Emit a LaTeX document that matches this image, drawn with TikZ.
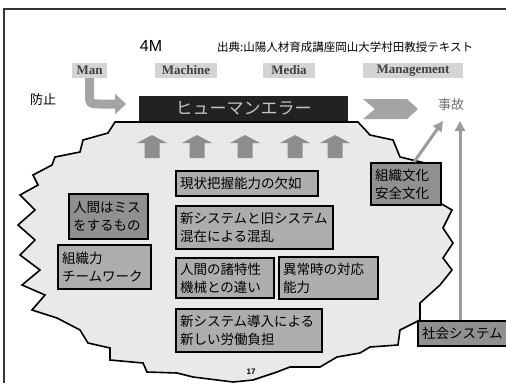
\documentclass[tikz,border=0pt]{standalone}
\usepackage{fontspec}
\setmainfont{Noto Sans CJK JP}
\newfontfamily\serifm{Liberation Serif}
\newfontfamily\sansm{Liberation Sans}
\usetikzlibrary{arrows.meta}
\definecolor{blobfill}{HTML}{E9E9E9}
\definecolor{boxfill}{HTML}{ADADAD}
\definecolor{boxdark}{HTML}{909090}
\definecolor{labelfill}{HTML}{D4D4D4}
\definecolor{arrowgray}{HTML}{8E8E8E}
\definecolor{darkbox}{HTML}{222222}
\definecolor{darktext}{HTML}{C4C4C4}
\definecolor{chev}{HTML}{A4A4A4}
\definecolor{jikotext}{HTML}{707070}
\definecolor{thinarrow}{HTML}{9C9C9C}
\definecolor{framec}{HTML}{333333}
\tikzset{
  mlabel/.style={fill=labelfill, minimum height=15pt, inner sep=0pt,
    font=\serifm\bfseries\fontsize{13}{14}\selectfont, text=black!75},
  jbox/.style={draw=black, line width=2pt, fill=boxfill, anchor=north west,
    align=left, inner xsep=4pt, inner ysep=0pt,
    font=\fontsize{13.5}{18}\selectfont},
  upar/.style={fill=arrowgray},
  thinar/.style={draw=thinarrow, line width=3pt, -{Triangle[width=10pt,length=10pt]}}
}
\begin{document}
\begin{tikzpicture}[x=1pt,y=-1pt]
\useasboundingbox (0,0) rectangle (506,383);
% frame
\draw[framec, line width=1.2pt] (4,383) -- (4,9) -- (506,9);
% titles
\node[font=\sansm\fontsize{16}{18}\selectfont] (fourm) at (151,46) {4M};
\node[font=\fontsize{11.5}{13}\selectfont, anchor=west, inner sep=0pt] (src) at (217,47) {出典:山陽人材育成講座岡山大学村田教授テキスト};
% 4M labels
\node[mlabel, minimum width=35pt] (man) at (89.5,70.5) {Man};
\node[mlabel, minimum width=62pt] (machine) at (186,70.5) {Machine};
\node[mlabel, minimum width=52pt] (media) at (289,70.5) {Media};
\node[mlabel, minimum width=100pt] (mgmt) at (413,70.5) {Management};
% blob
\path[draw=black, line width=1.6pt, fill=blobfill, line join=miter]
 (115,122) -- (358,122) -- (370,135) -- (393,140) -- (400,157) -- (425,163)
 -- (440,203) -- (452,210) -- (443,228) -- (453,243) -- (443,258) -- (452,270)
 -- (440,285) -- (420,303) -- (420,320) -- (400,330) -- (398,345) -- (370,347)
 -- (360,353) -- (337,357) -- (320,367) -- (290,367) -- (277,372) -- (253,380)
 -- (233,382) -- (193,377) -- (177,373) -- (147,372) -- (143,363) -- (110,360)
 -- (110,348) -- (88,343) -- (80,330) -- (57,318) -- (32,310) -- (45,295)
 -- (22,285) -- (40,270) -- (20,255) -- (35,240) -- (18,225) -- (35,210)
 -- (20,195) -- (38,185) -- (33,175) -- (52,165) -- (55,157) -- (80,152)
 -- (83,140) -- (108,133) -- cycle;
% human error box
\node[fill=darkbox, minimum width=209pt, minimum height=25pt, inner sep=0pt,
  text=darktext, font=\fontsize{17}{19}\selectfont] (herr) at (243.5,108.5) {ヒューマンエラー};
% 防止 and fat arrow from Man
\node[font=\fontsize{13}{15}\selectfont] (boushi) at (43,100) {防止};
\draw[chev, line width=9pt, -{Triangle[width=20pt,length=11pt]}]
  (man.south) -- (89.5,92) .. controls (89.5,104) and (89.5,104) .. (100,104) -- (126,104);
% chevron
\path[fill=chev] (363,99) -- (407,99) -- (418,109) -- (407,119) -- (363,119) -- (375,109) -- cycle;
\node[text=jikotext, font=\fontsize{13}{15}\selectfont] (jiko) at (451,105) {事故};
\coordinate (jikoL) at (443,121);
\coordinate (jikoR) at (460,121);
% five up arrows
\foreach \cx in {152,197,245,295,335}{
  \path[upar] (\cx,135) -- (\cx+15,143) -- (\cx+7.5,143) -- (\cx+7.5,158)
    -- (\cx-7.5,158) -- (\cx-7.5,143) -- (\cx-15,143) -- cycle;
}
% boxes
\node[jbox, text width=134pt, minimum height=25pt] (genjo) at (175,170) {現状把握能力の欠如};
\node[jbox, text width=149pt, minimum height=43pt] (shinkyu) at (175,205) {新システムと旧システム\\混在による混乱};
\node[jbox, text width=90pt, minimum height=40pt] (ningen) at (175,257) {人間の諸特性\\機械との違い};
\node[jbox, text width=91pt, minimum height=42pt] (ijo) at (278,256) {異常時の対応\\能力};
\node[jbox, text width=138pt, minimum height=43pt] (donyu) at (175,308) {新システム導入による\\新しい労働負担};
\node[jbox, fill=boxdark, text width=71pt, minimum height=45pt] (misu) at (68,193) {人間はミス\\をするもの};
\node[jbox, text width=85pt, minimum height=44pt] (soshiki) at (57,244) {組織力\\チームワーク};
\node[jbox, fill=boxdark, text width=62pt, minimum height=42pt] (bunka) at (370,162) {組織文化\\安全文化};
\node[jbox, fill=boxdark, text width=87pt, minimum height=25pt] (shakai) at (417,320) {社会システム};
\node[font=\sansm\bfseries\fontsize{8}{9}\selectfont] (page) at (251,372) {17};
% arrows to 事故
\draw[thinar] ([xshift=8pt]bunka.north) -- (jikoL);
\draw[thinar] (jikoR |- shakai.north) -- (jikoR);
\end{tikzpicture}
\end{document}
